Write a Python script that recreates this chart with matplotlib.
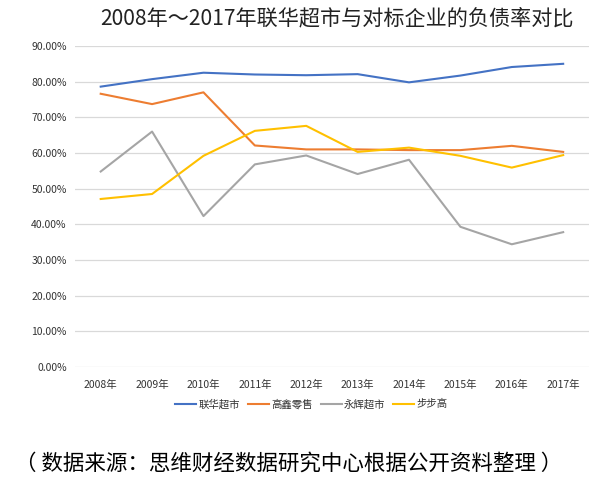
import matplotlib.pyplot as plt
from matplotlib.ticker import PercentFormatter

plt.rcParams['font.family'] = ['Noto Sans CJK SC', 'DejaVu Sans']

years = ['2008年', '2009年', '2010年', '2011年', '2012年',
         '2013年', '2014年', '2015年', '2016年', '2017年']
lianhua = [78.6, 80.7, 82.5, 82.0, 81.8, 82.1, 79.8, 81.7, 84.1, 85.0]
gaoxin = [76.6, 73.7, 77.0, 62.1, 61.0, 61.0, 60.8, 60.8, 62.0, 60.3]
yonghui = [54.8, 66.0, 42.3, 56.8, 59.3, 54.1, 58.1, 39.3, 34.4, 37.8]
bubugao = [47.1, 48.5, 59.2, 66.2, 67.6, 60.3, 61.5, 59.2, 55.9, 59.4]

names = ['联华超市', '高鑫零售', '永辉超市', '步步高']
colors = ['#4472C4', '#ED7D31', '#A5A5A5', '#FFC000']

fig = plt.figure(figsize=(5.92, 4.88), dpi=100)
ax = fig.add_axes([0.1267, 0.248, 0.868, 0.6578])

x = range(len(years))
for vals, name, c in zip([lianhua, gaoxin, yonghui, bubugao], names, colors):
    ax.plot(x, vals, color=c, lw=1.5, label=name)

ax.set_xlim(-0.5, len(years) - 0.5)
ax.set_ylim(0, 90)
ax.set_yticks(range(0, 91, 10))
ax.yaxis.set_major_formatter(PercentFormatter(decimals=2))
ax.set_xticks(list(x))
ax.set_xticklabels(years)
ax.grid(axis='y', color='#D9D9D9', lw=0.9)
ax.set_axisbelow(True)
for s in ax.spines.values():
    s.set_visible(False)
ax.tick_params(length=0, labelsize=7.5, colors='#333333', pad=6)
ax.tick_params(axis='x', pad=9)

ax.legend(loc='upper center', bbox_to_anchor=(0.46, -0.07), ncol=4,
          frameon=False, fontsize=7.5, handlelength=2.0, handletextpad=0.2,
          columnspacing=0.8, labelcolor='#333333')

fig.text(0.57, 0.963, '2008年～2017年联华超市与对标企业的负债率对比',
         ha='center', va='center', fontsize=15.2, color='#222222')
fig.text(0.025, 0.05, '（ 数据来源：思维财经数据研究中心根据公开资料整理 ）',
         ha='left', va='center', fontsize=15.5, color='black')

fig.savefig('out.png', dpi=100)
